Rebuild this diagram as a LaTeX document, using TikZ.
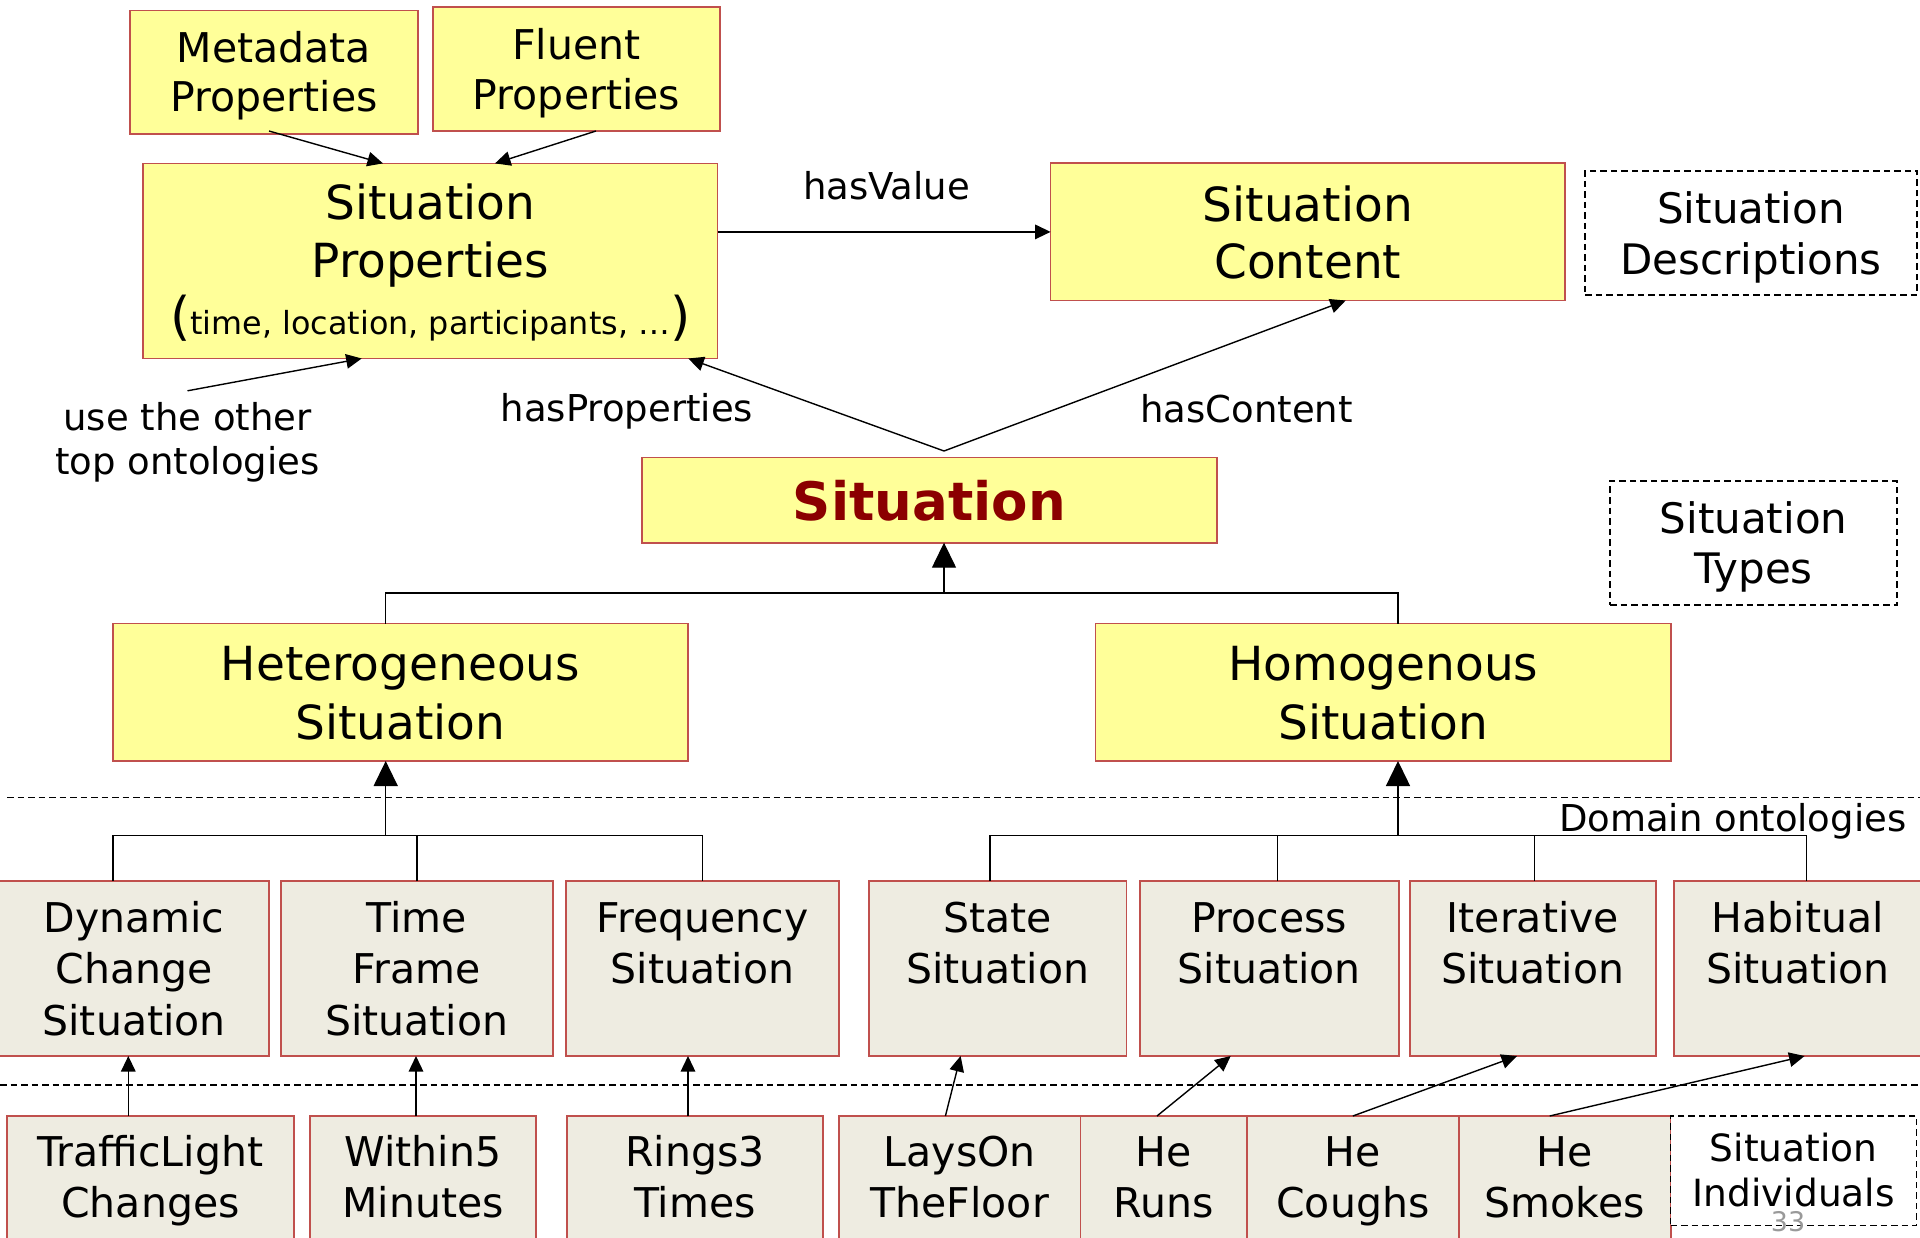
\documentclass[tikz,border=0pt]{standalone}
\usepackage{fontspec}
\setmainfont{DejaVu Sans}
\usetikzlibrary{arrows.meta}
\definecolor{boxred}{RGB}{192,80,77}
\definecolor{ylw}{RGB}{255,255,153}
\definecolor{gry}{RGB}{238,236,225}
\definecolor{dred}{RGB}{139,0,0}
\definecolor{pggray}{RGB}{153,153,153}
\newcommand{\bt}[4]{\parbox[c][#2][t]{#1}{\centering\rule{0pt}{#3}#4\par}}
\newcommand{\fs}[2]{\fontsize{#1pt}{#2pt}\selectfont}
\tikzset{
  ybox/.style={draw=boxred, line width=1.6pt, fill=ylw, inner sep=0pt, outer sep=0pt},
  gbox/.style={draw=boxred, line width=1.6pt, fill=gry, inner sep=0pt, outer sep=0pt},
  dbox/.style={draw=black, line width=1.5pt, dash pattern=on 6.5pt off 4pt, inner sep=0pt, outer sep=0pt},
  conn/.style={line width=1.4pt},
  sarrow/.style={conn, -{Triangle[length=15.5pt,width=14.5pt]}},
  barrow/.style={conn, -{Triangle[length=25pt,width=24pt]}},
  dline/.style={line width=1.5pt, dash pattern=on 6.5pt off 4pt},
  lbl/.style={inner sep=0pt, anchor=base},
}
\begin{document}
\begin{tikzpicture}[x=1pt,y=-1pt]
\useasboundingbox (0,0) rectangle (1920,1238);
\fill[white] (0,0) rectangle (1920,1238);
\clip (0,0) rectangle (1920,1238);

% dashed separators
\draw[dline] (7,797.3) -- (1920,797.3);
\draw[dline] (0,1085) -- (1920,1085);

% top boxes
\node[ybox, font={\fs{41}{49}}] (meta) at (274,72.35) {\bt{288pt}{123.3pt}{52pt}{Metadata\\Properties}};
\node[ybox, font={\fs{41}{50}}] (fluent) at (576.5,69.15) {\bt{287pt}{123.7pt}{52.7pt}{Fluent\\Properties}};
\node[ybox, font={\fs{47}{57.3}}] (sp) at (430.25,260.95) {\bt{574.5pt}{195.1pt}{56.6pt}{Situation\\Properties\\{\fs{52}{57}(}{\fs{31.8}{36}time, location, participants, …}{\fs{52}{57})}}};
\node[ybox, font={\fs{47}{57.4}}] (ct) at (1307.8,231.9) {\bt{514.4pt}{137.2pt}{58.1pt}{Situation\\Content}};
\node[dbox, font={\fs{42}{51.4}}] (desc) at (1751,233) {\bt{332pt}{124pt}{52.4pt}{Situation\\Descriptions}};
\node[dbox, font={\fs{42}{49.4}}] (types) at (1753.5,543) {\bt{287pt}{124pt}{52.8pt}{Situation\\Types}};

% situation
\node[ybox, font={\fs{53}{60}\bfseries}, text=dred] (sit) at (929.35,500) {\bt{575.3pt}{85.4pt}{62.7pt}{Situation}};

% second level
\node[ybox, font={\fs{47}{58.7}}] (het) at (400.5,692.3) {\bt{575pt}{137.4pt}{57.1pt}{Heterogeneous\\Situation}};
\node[ybox, font={\fs{47}{58.7}}] (hom) at (1383.3,692.3) {\bt{575.4pt}{137.4pt}{57.1pt}{Homogenous\\Situation}};

% row 2
\node[gbox, font={\fs{41}{51.2}}] (dyn) at (134.1,968.5) {\bt{269.2pt}{175pt}{51.7pt}{Dynamic\\Change\\Situation}};
\node[gbox, font={\fs{41}{51.2}}] (tf) at (416.85,968.5) {\bt{272.3pt}{175pt}{51.7pt}{Time\\Frame\\Situation}};
\node[gbox, font={\fs{41}{51.2}}] (freq) at (702.5,968.5) {\bt{273pt}{175pt}{51.7pt}{Frequency\\Situation}};
\node[gbox, font={\fs{41}{51.2}}] (state) at (997.8,968.5) {\bt{257.6pt}{175pt}{51.7pt}{State\\Situation}};
\node[gbox, font={\fs{41}{51.2}}] (proc) at (1269.25,968.5) {\bt{259.1pt}{175pt}{51.7pt}{Process\\Situation}};
\node[gbox, font={\fs{41}{51.2}}] (iter) at (1532.8,968.5) {\bt{246pt}{175pt}{51.7pt}{Iterative\\Situation}};
\node[gbox, font={\fs{41}{51.2}}] (hab) at (1797.85,968.5) {\bt{248.3pt}{175pt}{51.7pt}{Habitual\\Situation}};

% row 3
\node[gbox, font={\fs{41}{51.2}}] (traffic) at (150.5,1188) {\bt{287pt}{144pt}{50.6pt}{TrafficLight\\Changes}};
\node[gbox, font={\fs{41}{51.2}}] (within) at (423,1188) {\bt{226pt}{144pt}{50.6pt}{Within5\\Minutes}};
\node[gbox, font={\fs{41}{51.2}}] (rings) at (695,1188) {\bt{256pt}{144pt}{50.6pt}{Rings3\\Times}};
\node[gbox, font={\fs{41}{51.2}}] (lays) at (959.75,1188) {\bt{241.5pt}{144pt}{50.6pt}{LaysOn\\TheFloor}};
\node[gbox, font={\fs{41}{51.2}}] (runs) at (1163.75,1188) {\bt{166.5pt}{144pt}{50.6pt}{He\\Runs}};
\node[gbox, font={\fs{41}{51.2}}] (coughs) at (1352.85,1188) {\bt{211.7pt}{144pt}{50.6pt}{He\\Coughs}};
\node[gbox, font={\fs{41}{51.2}}] (smokes) at (1564.85,1188) {\bt{212.3pt}{144pt}{50.6pt}{He\\Smokes}};
\node[dbox, fill=white, font={\fs{37.5}{45}}] (indiv) at (1793.7,1170.85) {\bt{246pt}{109.7pt}{45.7pt}{Situation\\Individuals}};

% labels
\node[lbl, font={\fs{37}{44}}] (hv) at (886.5,200) {hasValue};
\node[lbl, font={\fs{37}{44}}] (hp) at (627,421.8) {hasProperties};
\node[lbl, font={\fs{37}{44}}] (hc) at (1246.5,422.3) {hasContent};
\node[inner sep=0pt, font={\fs{37}{44.3}}] (ut) at (187.5,444.7) {\bt{330pt}{100pt}{36pt}{use the other\\top ontologies}};
\node[lbl, anchor=base east, font={\fs{37}{44}}] (dom) at (1906.6,831.8) {Domain ontologies};
\node[lbl, text=pggray, font={\fs{27}{32}}] (pg) at (1788,1231.7) {33};

% top arrows
\draw[sarrow] ([xshift=-5pt,yshift=3pt]meta.south) -- ([xshift=-47.25pt]sp.north);
\draw[sarrow] ([xshift=19.5pt]fluent.south) -- ([xshift=64.75pt]sp.north);
\draw[sarrow] (sp.east |- ct.west) -- (ct.west);
\draw[sarrow] ([yshift=3.7pt]ut.north) -- ([xshift=-68.55pt]sp.south);

\coordinate (apex) at ([xshift=14.65pt,yshift=6.3pt]sit.north);
\draw[sarrow] (apex) -- ([xshift=-29.2pt]sp.south east);
\draw[sarrow] (apex) -- ([xshift=37.9pt]ct.south);

% tree from Situation
\coordinate (sT) at ([xshift=14.65pt]sit.south);
\coordinate (j1) at ([yshift=-50.3pt]sT);
\draw[barrow] (j1) -- (sT);
\coordinate (hT) at ([xshift=-14.8pt]het.north);
\coordinate (mT) at ([xshift=14.7pt]hom.north);
\draw[conn] (hT) -- (hT |- j1) -- (mT |- j1) -- (mT);

% heterogeneous subtree
\coordinate (j2) at ([xshift=-14.8pt,yshift=-74.3pt]het.south);
\draw[barrow] (j2) -- (j2 |- het.south);
\coordinate (dT) at ([xshift=-21pt]dyn.north);
\draw[conn] (dT) |- (freq.north |- j2) -- (freq.north);
\draw[conn] (tf.north) -- (tf.north |- j2);

% homogenous subtree
\coordinate (j3) at ([xshift=14.7pt,yshift=-74.3pt]hom.south);
\draw[barrow] (j3) -- (j3 |- hom.south);
\coordinate (stT) at ([xshift=-7.8pt]state.north);
\coordinate (prT) at ([xshift=8.25pt]proc.north);
\coordinate (itT) at ([xshift=1.7pt]iter.north);
\coordinate (haT) at ([xshift=8.85pt]hab.north);
\draw[conn] (stT) |- (haT |- j3) -- (haT);
\draw[conn] (prT) -- (prT |- j3);
\draw[conn] (itT) -- (itT |- j3);

% individuals to types
\draw[sarrow] ([xshift=-22.2pt]traffic.north) -- ([xshift=-5.8pt]dyn.south);
\draw[sarrow] ([xshift=-7pt]within.north) -- ([xshift=-0.85pt]tf.south);
\draw[sarrow] ([xshift=-7pt]rings.north) -- ([xshift=-14.5pt]freq.south);
\draw[sarrow] ([xshift=-14.35pt]lays.north) -- ([xshift=-37.2pt]state.south);
\draw[sarrow] ([xshift=-6.75pt]runs.north) -- ([xshift=-38.55pt]proc.south);
\draw[sarrow] (coughs.north) -- ([xshift=-15.8pt]iter.south);
\draw[sarrow] ([xshift=-15.15pt]smokes.north) -- ([xshift=6.75pt]hab.south);
\end{tikzpicture}
\end{document}
